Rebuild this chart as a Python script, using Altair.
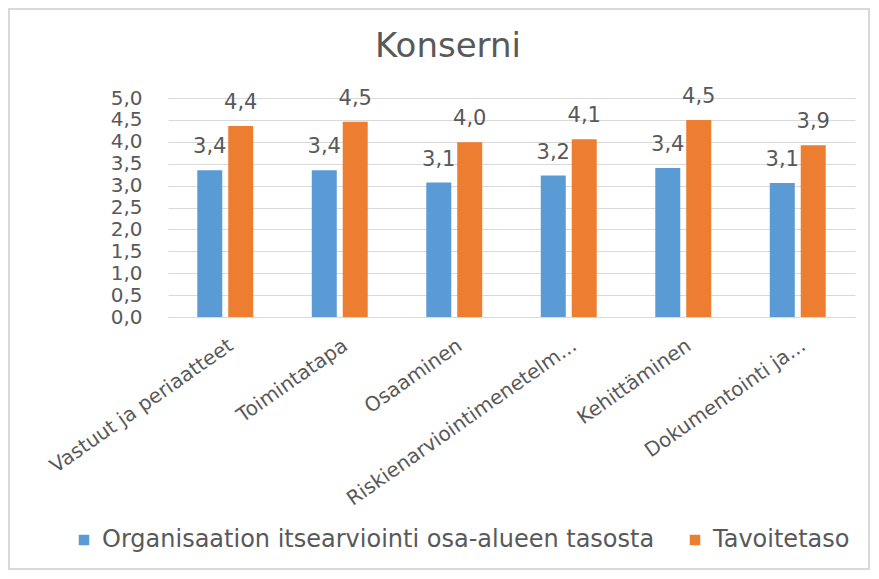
import altair as alt
import pandas as pd

categories = ["Vastuut ja periaatteet", "Toimintatapa", "Osaaminen",
              "Riskienarviointimenetelm...", "Kehittäminen", "Dokumentointi ja..."]
series_names = ["Organisaation itsearviointi osa-alueen tasosta", "Tavoitetaso"]
itsearviointi = [3.35, 3.35, 3.07, 3.23, 3.40, 3.06]
tavoitetaso = [4.36, 4.46, 3.99, 4.06, 4.50, 3.92]
colors = ["#5B9BD5", "#ED7D31"]
chart_title = "Konserni"

rows = []
for c, a, b in zip(categories, itsearviointi, tavoitetaso):
    rows.append({"cat": c, "series": series_names[0], "value": a})
    rows.append({"cat": c, "series": series_names[1], "value": b})
df = pd.DataFrame(rows)
df["label"] = df["value"].map(lambda v: f"{v:.1f}".replace(".", ","))

FONT = "DejaVu Sans"
GRAY = "#595959"

x = alt.X("cat:N", sort=categories, title=None,
          scale=alt.Scale(paddingInner=0, paddingOuter=0),
          axis=alt.Axis(labelAngle=-35, labelAlign="right", labelBaseline="top",
                        labelFontSize=20, labelColor=GRAY, labelFont=FONT,
                        ticks=False, domain=False, labelPadding=18, labelLimit=400))
xo = alt.XOffset("series:N", sort=series_names,
                 scale=alt.Scale(paddingInner=0, paddingOuter=0.85))
y = alt.Y("value:Q", title=None,
          scale=alt.Scale(domain=[0, 5]),
          axis=alt.Axis(values=[0, 0.5, 1, 1.5, 2, 2.5, 3, 3.5, 4, 4.5, 5],
                        labelExpr="replace(format(datum.value, '.1f'), '.', ',')",
                        labelFontSize=20, labelColor=GRAY, labelFont=FONT,
                        ticks=False, domain=False, labelPadding=26,
                        gridColor="#D9D9D9", gridWidth=1))
color = alt.Color("series:N", sort=series_names,
                  scale=alt.Scale(domain=series_names, range=colors),
                  legend=alt.Legend(title=None, orient="none", direction="horizontal",
                                    legendX=-96, legendY=430,
                                    symbolType="square", symbolSize=110,
                                    symbolStrokeWidth=0,
                                    labelFontSize=24, labelColor=GRAY, labelFont=FONT,
                                    columnPadding=28, labelOffset=6, labelLimit=800))

base = alt.Chart(df)
bars = base.mark_bar(width=25).encode(x=x, xOffset=xo, y=y, color=color)
texts = base.mark_text(fontSize=21, color=GRAY, font=FONT, baseline="middle",
                       dy=-23).encode(x=x, xOffset=xo, y=y, text="label:N")

title = alt.Chart(pd.DataFrame({"t": [chart_title]})).mark_text(
    fontSize=34, color=GRAY, font=FONT, align="center", baseline="alphabetic", clip=False
).encode(x=alt.value(280), y=alt.value(-41), text="t:N")

frame = alt.Chart(pd.DataFrame({"f": [0]})).mark_rect(
    fill=None, stroke="#D9D9D9", strokeWidth=2, clip=False
).encode(x=alt.value(-159), x2=alt.value(701), y=alt.value(-89), y2=alt.value(471))

chart = alt.layer(frame, title, bars, texts).properties(
    width=687, height=219,
    autosize=alt.AutoSizeParams(type="none"),
    padding={"left": 160, "top": 90, "right": 16, "bottom": 254},
).configure_view(stroke=None)

chart.save("out.html", embed_options={"renderer": "svg", "actions": False})
